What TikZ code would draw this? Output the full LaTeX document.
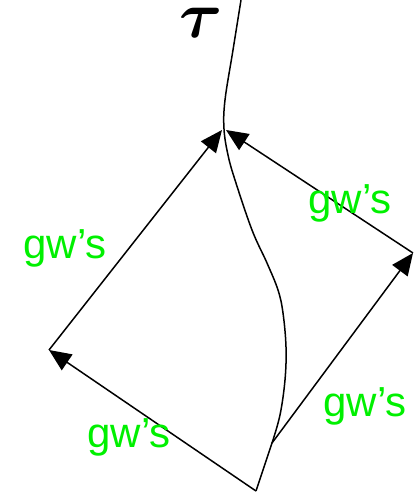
\documentclass[tikz,border=0pt]{standalone}
\usepackage{fontspec}
\usepackage{amsmath,bm}
\newfontfamily\labelfont{Liberation Sans}
\usetikzlibrary{arrows.meta}
\definecolor{gwgreen}{RGB}{0,240,0}
\tikzset{
  line/.style={line width=1.5pt, black},
  arr/.style={line, -{Triangle[length=22pt,width=19pt]}, shorten >=0pt},
  gw/.style={text=gwgreen, font=\labelfont\fontsize{42}{42}\selectfont, anchor=base, inner sep=0pt},
}
\begin{document}
\begin{tikzpicture}[x=1pt,y=-1pt]
\useasboundingbox (0,0) rectangle (417,493);
\coordinate (t0) at (241,0);
\coordinate (apexL) at (222,130);
\coordinate (apexR) at (226,130);
\coordinate (left) at (49,350);
\coordinate (right) at (413,253);
\coordinate (junc) at (272,443);
\coordinate (bot) at (256,491);
% worldline tau
\draw[line] plot[smooth, tension=0.6] coordinates {(241,0) (233,50) (225,100) (224,129) (228,155) (235,180) (252,230) (267,263) (278,290) (283,313) (286,347) (285,380) (280,415) (272,443)} -- (bot);
% arrows
\draw[arr] (bot) -- (left);
\draw[arr] (left) -- (apexL);
\draw[arr] (junc) -- (right);
\draw[arr] (right) -- (apexR);
% labels
\node[inner sep=0pt, anchor=base] (tau) at (201,37) {\scalebox{6.6}{$\bm{\tau}$}};
\node[gw] (g1) at (65,258) {gw’s};
\node[gw] (g2) at (350,213) {gw’s};
\node[gw] (g3) at (129,447) {gw’s};
\node[gw] (g4) at (365,416) {gw’s};
\end{tikzpicture}
\end{document}
